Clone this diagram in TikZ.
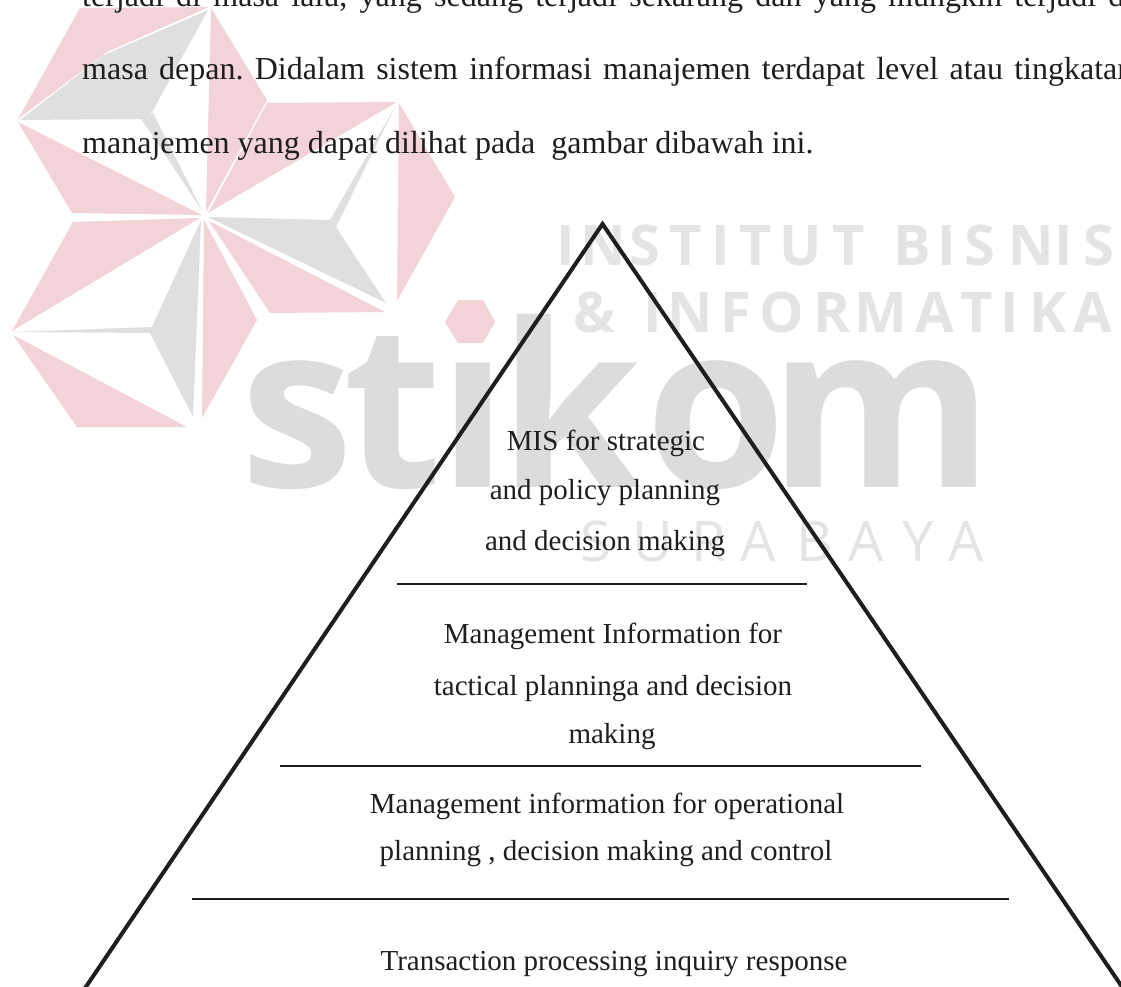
\documentclass[tikz,border=0pt]{standalone}
\usepackage{fontspec}
\setmainfont{Liberation Serif}
\newfontfamily\wmsans{Open Sans}
\definecolor{wmPink}{HTML}{F2D3D8}
\definecolor{wmGray}{HTML}{DFDFDF}
\definecolor{wmText}{HTML}{E4E4E4}
\definecolor{wmLogo}{HTML}{DCDCDC}
\definecolor{ink}{HTML}{1E1E1E}
\frenchspacing
\begin{document}
\begin{tikzpicture}[x=1pt,y=-1pt,
  wmpink/.style={fill=wmPink,draw=none},
  wmgray/.style={fill=wmGray,draw=none},
  wmcap/.style={anchor=base,inner sep=0pt,text=wmText,font=\wmsans\bfseries\fontsize{56}{56}\selectfont},
  wmthin/.style={anchor=base,inner sep=0pt,text=wmText,font=\wmsans\fontsize{56}{56}\selectfont},
  wmbig/.style={anchor=base,inner sep=0pt,text=wmLogo,font=\wmsans\bfseries\fontsize{228}{228}\selectfont},
  para/.style={anchor=base west,inner sep=0pt,text=ink,font=\fontsize{32}{38}\selectfont},
  lbl/.style={anchor=base,inner sep=0pt,text=ink,font=\fontsize{29}{35}\selectfont},
  tri/.style={draw=ink,line width=4pt,line join=miter},
  sep/.style={draw=ink,line width=2pt}]
\useasboundingbox (0,0) rectangle (1121,987);
\clip (0,0) rectangle (1121,987);
\fill[white] (0,0) rectangle (1121,987);

% ---------- watermark logo ----------
\fill[wmpink] (80,8) -- (209,7) -- (107,52) -- (18,119) -- cycle;
\fill[wmgray] (208,10) -- (104,55) -- (20,120) -- (145,119) -- (152,112) -- cycle;
\fill[wmgray] (142,120) -- (153,113) -- (203,212) -- cycle;
\fill[wmpink] (211,8) -- (267,100) -- (206,212) -- cycle;
\fill[wmpink] (18,122) -- (72,213) -- (202,215) -- cycle;
\fill[wmpink] (73,222) -- (200,218) -- (12,331) -- cycle;
\fill[wmgray] (201,220) -- (152,327) -- (14,332) -- (150,333) -- (193,417) -- cycle;
\fill[wmpink] (204,220) -- (257,320) -- (202,418) -- cycle;
\fill[wmpink] (13,335) -- (187,427) -- (77,427) -- cycle;
\fill[wmpink] (267,103) -- (397,102) -- (208,213) -- cycle;
\fill[wmgray] (208,217) -- (330,220) -- (396,105) -- (336,227) -- (386,303) -- cycle;
\fill[wmpink] (209,221) -- (385,312) -- (270,313) -- cycle;
\fill[wmpink] (399,103) -- (455,197) -- (397,301) -- cycle;

% ---------- watermark words ----------
\foreach \ch/\cx [count=\i] in {I/566,N/603,S/645,T/686,I/721,T/756,U/801,T/849,B/912,I/947,S/980,N/1031,I/1064,S/1099}
  \node[wmcap] (wa\i) at (\cx,265) {\ch};
\foreach \ch/\cx [count=\i] in {{\&}/594,I/653,N/690,F/736,O/782,R/832,M/881,A/935,T/977,I/1010,K/1048,A/1093}
  \node[wmcap] (wb\i) at (\cx,332) {\ch};
\foreach \ch/\cx [count=\i] in {s/297,t/393,ı/473,k/570,o/716,m/881}
  \node[wmbig] (wc\i) at (\cx,487) {\ch};
\fill[wmpink] (445,322) -- (458,300) -- (483,300) -- (495,322) -- (483,343) -- (458,343) -- cycle;
\foreach \ch/\cx [count=\i] in {S/596,U/653,R/709,A/758,B/815,A/866,Y/918,A/966}
  \node[wmthin] (wd\i) at (\cx,561) {\ch};

% ---------- paragraph ----------
\node[para] (p1) at (82,7) {\hbox to 1051pt{terjadi di masa lalu, yang sedang terjadi sekarang dan yang mungkin terjadi di}};
\node[para] (p2) at (82,80) {\hbox to 1051pt{masa depan. Didalam sistem informasi manajemen terdapat level atau tingkatan}};
\node[para] (p3) at (82,154) {manajemen yang dapat dilihat pada~ gambar dibawah ini.};

% ---------- pyramid ----------
\coordinate (apex) at (602.5,224);
\coordinate (footL) at (77,1000);
\coordinate (footR) at (1131,1000);
\draw[tri] (footL) -- (apex) -- (footR);

\coordinate (s1a) at (397,584);  \coordinate (s1b) at (807,584);
\coordinate (s2a) at (280,766);  \coordinate (s2b) at (921,766);
\coordinate (s3a) at (192,899);  \coordinate (s3b) at (1009,899);
\draw[sep] (s1a) -- (s1b);
\draw[sep] (s2a) -- (s2b);
\draw[sep] (s3a) -- (s3b);

\node[lbl] (t1a) at (606,450) {MIS for strategic};
\node[lbl] (t1b) at (605,499) {and policy planning};
\node[lbl] (t1c) at (605,550) {and decision making};
\node[lbl] (t2a) at (613,643) {Management Information for};
\node[lbl] (t2b) at (613,695) {tactical planninga and decision};
\node[lbl] (t2c) at (612,743) {making};
\node[lbl] (t3a) at (607,813) {Management information for operational};
\node[lbl] (t3b) at (606,860) {planning , decision making and control};
\node[lbl] (t4)  at (614,970) {Transaction processing inquiry response};
\end{tikzpicture}
\end{document}
